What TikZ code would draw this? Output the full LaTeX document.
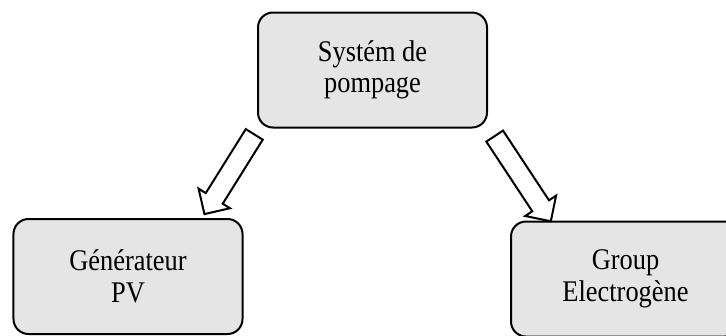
\documentclass[tikz,border=0pt]{standalone}
\usepackage{fontspec}
\setmainfont{Liberation Serif}[FakeStretch=0.88]
\usetikzlibrary{shapes.arrows}

\begin{document}
\begin{tikzpicture}[x=0.4pt,y=-0.4pt,
  bloc/.style={draw,line width=0.8pt,rounded corners=6pt,fill=gray!20,
    minimum width=91.6pt,minimum height=46pt,align=center,
    font=\fontsize{12}{12.6}\selectfont},
  fleche/.style={draw,line width=0.8pt,fill=white,single arrow,
    single arrow head extend=3.4pt,single arrow head indent=0pt,
    inner xsep=0pt,inner ysep=3.6pt}]
  \clip (0,0) rectangle (726,335);
  \node[bloc] (pompage) at (372.5,70) {Systém de\\pompage};
  \node[bloc] (pv) at (128,276.5) {Générateur\\PV};
  \node[bloc] (groupe) at (625.5,279) {Group\\Electrogène};
  \node[fleche,minimum height=37.6pt,rotate=238] (f1) at (232,170) {};
  \node[fleche,minimum height=40.8pt,rotate=303.4] (f2) at (520,174.5) {};
\end{tikzpicture}
\end{document}
